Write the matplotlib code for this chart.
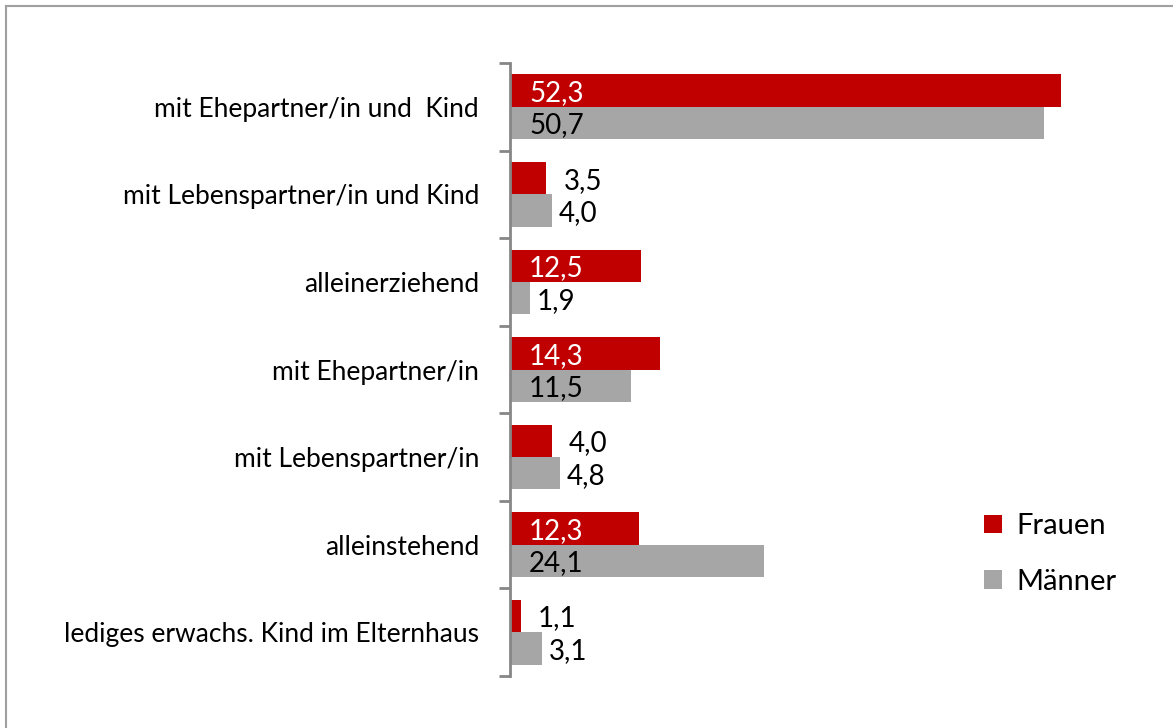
import matplotlib
matplotlib.use("Agg")
import matplotlib.pyplot as plt
from matplotlib.lines import Line2D
from matplotlib.patches import Patch

plt.rcParams['font.family'] = ['Lato', 'DejaVu Sans']

categories = ["mit Ehepartner/in und  Kind", "mit Lebenspartner/in und Kind", "alleinerziehend",
              "mit Ehepartner/in", "mit Lebenspartner/in", "alleinstehend",
              "lediges erwachs. Kind im Elternhaus"]
frauen = [52.3, 3.5, 12.5, 14.3, 4.0, 12.3, 1.1]
maenner = [50.7, 4.0, 1.9, 11.5, 4.8, 24.1, 3.1]
series_names = ["Frauen", "Männer"]

RED = "#C00000"
GRAY = "#A6A6A6"

W, H = 1173, 728
fig = plt.figure(figsize=(W / 100, H / 100), dpi=100)
ax = fig.add_axes([509.5 / W, (H - 676) / H, (1142 - 509.5) / W, (676 - 63) / H])

n = len(categories)
ys = list(range(n))
h = 0.37
ax.barh([y - h / 2 for y in ys], frauen, height=h, color=RED, edgecolor="none")
ax.barh([y + h / 2 for y in ys], maenner, height=h, color=GRAY, edgecolor="none")

ax.set_xlim(0, 60)
ax.set_ylim(n - 0.5, -0.5)

def fmt(v):
    return f"{v:.1f}".replace(".", ",")

lab_fs = 20
for y, v in zip(ys, frauen):
    if v >= 10:
        ax.annotate(fmt(v), (0, y - h / 2), xytext=(19.5, 0), textcoords="offset pixels",
                    ha="left", va="center_baseline", color="white", fontsize=lab_fs)
    else:
        ax.annotate(fmt(v), (v, y - h / 2), xytext=(17, 0), textcoords="offset pixels",
                    ha="left", va="center_baseline", color="black", fontsize=lab_fs)
for y, v in zip(ys, maenner):
    if v >= 10:
        ax.annotate(fmt(v), (0, y + h / 2), xytext=(19.5, 0), textcoords="offset pixels",
                    ha="left", va="center_baseline", color="black", fontsize=lab_fs)
    else:
        ax.annotate(fmt(v), (v, y + h / 2), xytext=(7, 0), textcoords="offset pixels",
                    ha="left", va="center_baseline", color="black", fontsize=lab_fs)

# y axis styling
for s in ["top", "right", "bottom"]:
    ax.spines[s].set_visible(False)
ax.spines["left"].set_color("#868686")
ax.spines["left"].set_linewidth(2)
ax.set_xticks([])
ax.set_yticks([y + 0.5 for y in range(-1, n)], minor=False)
ax.set_yticklabels([])
ax.tick_params(axis="y", which="major", length=8, width=2, color="#868686")
ax.set_yticks(ys, minor=True)
ax.set_yticklabels(categories, minor=True, fontsize=19)
ax.tick_params(axis="y", which="minor", length=0, pad=22)

handles = [Patch(facecolor=RED), Patch(facecolor=GRAY)]
fig.legend(handles, series_names, loc="center left", bbox_to_anchor=(958 / W, 1 - 554 / H),
           frameon=False, fontsize=21, handlelength=0.6, handleheight=0.6,
           handletextpad=0.5, labelspacing=1.0)

# outer border (top and left visible)
fig.add_artist(Line2D([5.5 / W, 1.0], [1 - 5.5 / H, 1 - 5.5 / H], color="#A0A0A0", lw=1.5))
fig.add_artist(Line2D([5.5 / W, 5.5 / W], [0, 1 - 5.5 / H], color="#A0A0A0", lw=1.5))

fig.savefig("out.png", dpi=100)
